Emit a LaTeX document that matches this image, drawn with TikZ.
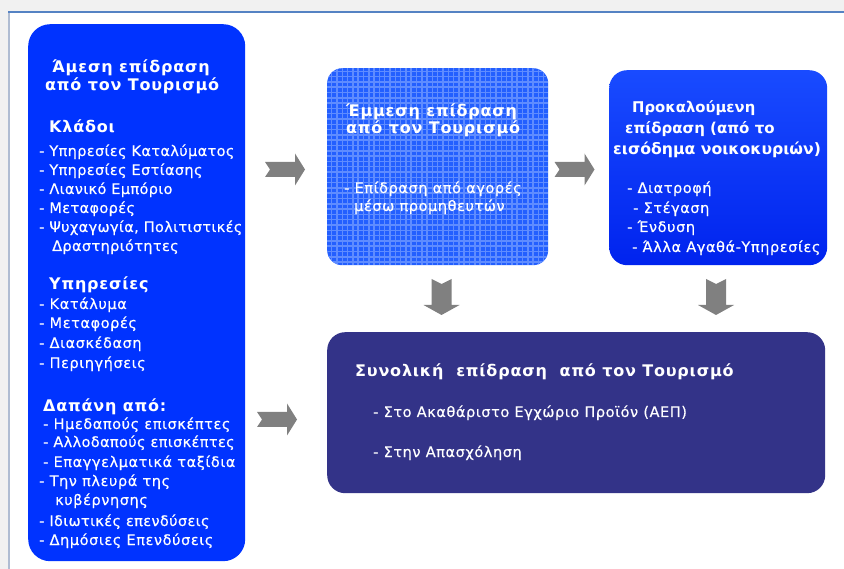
\documentclass[tikz,border=0pt]{standalone}
\usepackage{fontspec}
\setmainfont{DejaVu Sans}
\newfontfamily\itemfont{DejaVu Sans}[LetterSpace=4, FakeBold=0.4]
\newfontfamily\headfont{DejaVu Sans}[LetterSpace=5]
\definecolor{directblue}{RGB}{0,51,255}
\definecolor{indirectblue}{RGB}{35,95,255}
\definecolor{gridline}{RGB}{95,140,255}
\definecolor{inducedtop}{RGB}{25,75,255}
\definecolor{inducedbot}{RGB}{0,35,238}
\definecolor{totalnavy}{RGB}{51,51,136}
\definecolor{arrowgray}{RGB}{128,128,128}
\definecolor{framegray}{RGB}{241,241,241}
\definecolor{frameblue}{RGB}{85,130,195}
\definecolor{frameside}{RGB}{175,188,210}
\tikzset{
  box/.style={draw=none, anchor=north west, inner sep=0pt, rounded corners=#1},
  box/.default=18pt,
  txt/.style={text=white, anchor=base west, inner sep=0pt, font=\itemfont\fontsize{14.5}{17}\selectfont},
  txtnarrow/.style={txt, font=\itemfont\fontsize{14.5}{17}\selectfont\addfontfeature{LetterSpace=2.5}},
  hd/.style={txt, font=\headfont\fontsize{16}{19}\selectfont\bfseries},
  hdplain/.style={txt, font=\fontsize{#1}{19}\selectfont\bfseries},
  blockarrow/.pic={
    \fill[arrowgray] (-20,-7.5) -- (10,-7.5) -- (10,-16) -- (20,0) -- (10,16)
      -- (10,7.5) -- (-20,7.5) -- (-15,0) -- cycle;
  },
  downarrow/.pic={
    \fill[arrowgray] (-10,-18) -- (-10,8) -- (-18,8) -- (0,18) -- (18,8)
      -- (10,8) -- (10,-18) -- (0,-13) -- cycle;
  }
}
\begin{document}
\begin{tikzpicture}[x=1pt,y=-1pt]
\useasboundingbox (0,0) rectangle (844,569);
% window frame
\fill[framegray] (0,0) rectangle (844,11);
\fill[framegray] (0,0) rectangle (8,569);
\draw[frameside, line width=1.2] (9,12) -- (9,569);
\draw[frameblue, line width=2] (8,12) -- (844,12);

% boxes
\node[box=22pt, fill=directblue, minimum width=217, minimum height=537] (direct) at (28,24) {};
\node[box=15pt, fill=indirectblue, minimum width=221, minimum height=197,
  path picture={\draw[gridline, line width=1.5] (path picture bounding box.south west)
     grid[xstep=5.3pt, ystep=5.3pt] (path picture bounding box.north east);}] (indirect) at (327,68) {};
\node[box=18pt, top color=inducedtop, bottom color=inducedbot, minimum width=218, minimum height=195] (induced) at (609,70) {};
\node[box=18pt, fill=totalnavy, minimum width=498, minimum height=161] (total) at (327,332) {};

% direct impact text
\node[hd] (d1) at (52,73) {Άμεση επίδραση};
\node[hd] (d2) at (45,91) {από τον Τουρισμό};
\node[hd] (k0) at (49,133) {Κλάδοι};
\node[txtnarrow] (k1) at (39,156) {- Υπηρεσίες Καταλύματος};
\node[txtnarrow] (k2) at (39,175) {- Υπηρεσίες Εστίασης};
\node[txtnarrow] (k3) at (39,194) {- Λιανικό Εμπόριο};
\node[txtnarrow] (k4) at (39,213) {- Μεταφορές};
\node[txtnarrow] (k5) at (39,232) {- Ψυχαγωγία, Πολιτιστικές};
\node[txtnarrow] (k6) at (52,251) {Δραστηριότητες};
\node[hd] (s0) at (49,290) {Υπηρεσίες};
\node[txt] (s1) at (39,309) {- Κατάλυμα};
\node[txt] (s2) at (39,328) {- Μεταφορές};
\node[txt] (s3) at (39,348) {- Διασκέδαση};
\node[txt] (s4) at (39,368) {- Περιηγήσεις};
\node[hd] (e0) at (43,412) {Δαπάνη από:};
\node[txt] (e1) at (43,429) {- Ημεδαπούς επισκέπτες};
\node[txtnarrow] (e2) at (43,447) {- Αλλοδαπούς επισκέπτες};
\node[txt] (e3) at (43,467) {- Επαγγελματικά ταξίδια};
\node[txt] (e4) at (39,486) {- Την πλευρά της};
\node[txt] (e5) at (55,505) {κυβέρνησης};
\node[txtnarrow] (e6) at (39,526) {- Ιδιωτικές επενδύσεις};
\node[txt] (e7) at (39,545) {- Δημόσιες Επενδύσεις};

% indirect impact text
\node[hd] (i1) at (346,117) {Έμμεση επίδραση};
\node[hd] (i2) at (346,134) {από τον Τουρισμό};
\node[txt] (i3) at (344,193) {- Επίδραση από αγορές};
\node[txt] (i4) at (354,211) {μέσω προμηθευτών};

% induced impact text
\node[hdplain=14.8] (n1) at (632,113) {Προκαλούμενη};
\node[hdplain=15] (n2) at (625,134) {επίδραση (από το};
\node[hdplain=15.7] (n3) at (613,155) {εισόδημα νοικοκυριών)};
\node[txt] (n4) at (627,193) {- Διατροφή};
\node[txt] (n5) at (633,213) {- Στέγαση};
\node[txt] (n6) at (627,232) {- Ένδυση};
\node[txt] (n7) at (632,252) {- Άλλα Αγαθά-Υπηρεσίες};

% total impact text
\node[hd] (t1) at (355,377) {Συνολική\ \ επίδραση\ \ από τον Τουρισμό};
\node[txt] (t2) at (373,417) {- Στο Ακαθάριστο Εγχώριο Προϊόν (ΑΕΠ)};
\node[txt] (t3) at (373,457) {- Στην Απασχόληση};

% flow arrows
\pic at (285,169.5) {blockarrow};
\pic at (574.5,169.5) {blockarrow};
\pic at (277,419.5) {blockarrow};
\pic at (441.5,297) {downarrow};
\pic at (716,297) {downarrow};
\end{tikzpicture}
\end{document}
